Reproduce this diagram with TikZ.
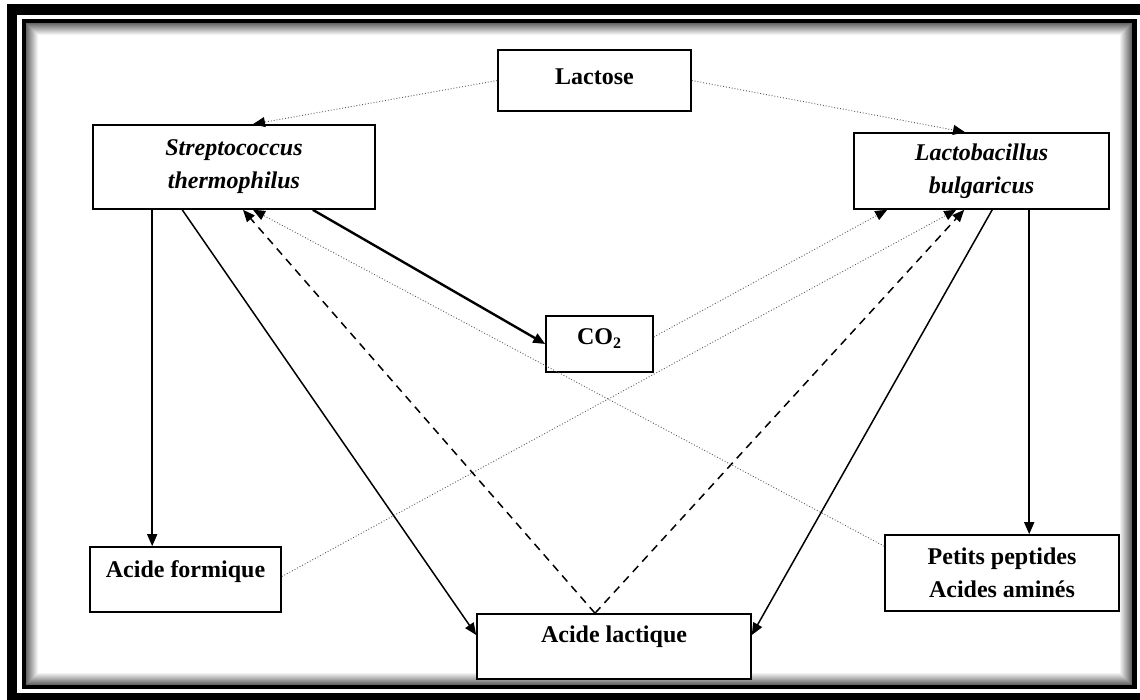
\documentclass[tikz,border=0pt]{standalone}
\usepackage{fontspec}
\setmainfont{Liberation Serif}
\usetikzlibrary{arrows.meta}

\begin{document}
\begin{tikzpicture}[
    x=0.5pt, y=-0.5pt,
    box/.style={rectangle, draw, fill=white, line width=0.8pt, align=center, inner sep=2pt, font=\fontsize{12}{16.5}\selectfont\bfseries},
    species/.style={box, font=\fontsize{12}{16.5}\selectfont\bfseries\itshape},
    lift/.style={text depth=#1},
    arrow/.style={-{Triangle[length=6pt, width=5pt]}, line width=0.75pt},
    feed/.style={arrow, line width=1.2pt},
    weak/.style={-{Triangle[length=6pt, width=5pt, color=black]}, line width=0.45pt, black!65, densely dotted},
    backflow/.style={arrow, dash pattern=on 4pt off 3pt}
]
    \clip (0,0) rectangle (1140,700);
    \fill[white] (0,0) rectangle (1140,700);
    \fill (7,4) rectangle (1160,720);
    \fill[white] (17,15) rectangle (1141,693);
    \fill (22,19) rectangle (1137,689);
    \foreach \i in {0,...,11} {
        \pgfmathtruncatemacro\tone{60-5*\i}
        \fill[black!\tone] (26+\i,23+\i) rectangle (1132-\i,685-\i);
    }
    \fill[white] (38,35) rectangle (1120,673);

    \node[box, lift=3.5pt, minimum width=96.5pt, minimum height=30.5pt] (lactose) at (594.5,80.5) {Lactose};
    \node[species, minimum width=141pt, minimum height=42pt] (strep) at (234,167) {Streptococcus\\thermophilus};
    \node[species, minimum width=127.5pt, minimum height=38pt] (lacto) at (981.5,171) {Lactobacillus\\bulgaricus};
    \node[box, lift=7pt, minimum width=53.5pt, minimum height=28pt] (co2) at (599.5,344) {CO\textsubscript{2}};
    \node[box, lift=10.5pt, minimum width=95.5pt, minimum height=32.5pt] (formique) at (185.5,579.5) {Acide formique};
    \node[box, minimum width=117pt, minimum height=38pt] (petits) at (1002,573) {Petits peptides\\Acides aminés};
    \node[box, lift=12pt, minimum width=137pt, minimum height=32.5pt] (lactique) at (614,646.5) {Acide lactique};

    \draw[weak] (lactose.west) -- ([xshift=9.5pt]strep.north);
    \draw[weak] (lactose.east) -- ([xshift=-8.25pt]lacto.north);
    \draw[arrow] ([xshift=30pt]strep.south west) -- ([xshift=30pt]strep.south west |- formique.north);
    \draw[arrow] ([xshift=45pt]strep.south west) -- ([yshift=5.75pt]lactique.west);
    \draw[feed] ([xshift=-31.5pt]strep.south east) -- (co2.west);
    \draw[weak] ([yshift=3.5pt]co2.east) -- ([xshift=17pt]lacto.south west);
    \draw[weak] ([yshift=1.5pt]formique.east) -- ([xshift=51.5pt]lacto.south west);
    \draw[backflow] ([xshift=-9.5pt]lactique.north) -- ([xshift=4.5pt]strep.south);
    \draw[backflow] ([xshift=-9.5pt]lactique.north) -- ([xshift=55.5pt]lacto.south west);
    \draw[weak] ([yshift=-6pt]petits.north west) -- ([xshift=9.5pt]strep.south);
    \draw[arrow] ([xshift=69.5pt]lacto.south west) -- ([yshift=5.75pt]lactique.east);
    \draw[arrow] ([xshift=88pt]lacto.south west) -- ([xshift=88pt]lacto.south west |- petits.north);
\end{tikzpicture}
\end{document}
